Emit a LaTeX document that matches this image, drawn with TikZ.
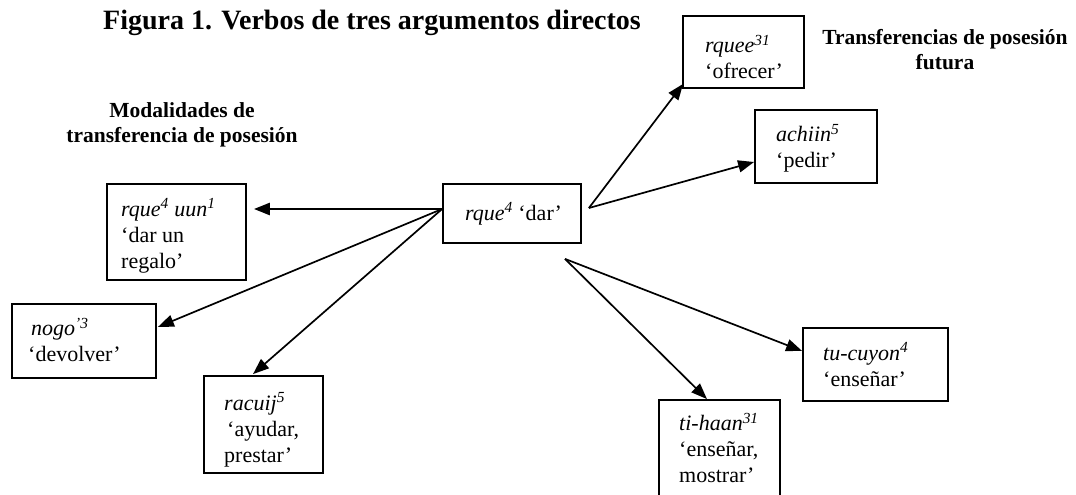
\documentclass[tikz,border=0pt]{standalone}
\usepackage{fontspec}
\setmainfont{Liberation Serif}
\usetikzlibrary{arrows.meta,calc}
\begin{document}
\begin{tikzpicture}[x=1pt,y=-1pt,
  box/.style={draw,line width=1.8pt,inner sep=0pt,rectangle},
  txt/.style={anchor=west,align=left,inner sep=0pt,font=\fontsize{22}{26}\selectfont},
  lbl/.style={align=center,inner sep=0pt,font=\fontsize{21.5}{25}\selectfont\bfseries},
  arr/.style={line width=1.7pt,-{Triangle[length=16pt,width=12pt]}},
  thickarr/.style={arr,line width=2.6pt}]
\useasboundingbox (0,0) rectangle (1076,495);

% title and group labels
\node[anchor=base west,inner sep=0pt,font=\fontsize{28}{32}\selectfont\bfseries] (title) at (103,30)
  {Figura 1. Verbos de tres argumentos directos};
\node[lbl] (modal) at (182,125) {Modalidades de\\transferencia de posesión};
\node[lbl] (futura) at (945,50) {Transferencias de posesión\\futura};

% central verb
\node[box,minimum width=138pt,minimum height=59pt] (dar) at (512,213.5) {};
\node[txt] (darT) at (465,214) {\textit{rque\textsuperscript{4}} `dar'};

% left group
\node[box,minimum width=139pt,minimum height=96pt] (uun) at (176.5,232) {};
\node[txt] (uunT) at (121,236) {\textit{rque\textsuperscript{4} uun\textsuperscript{1}}\\`dar un\\regalo'};

\node[box,minimum width=144pt,minimum height=74pt] (nogo) at (84,341) {};
\node[txt] (nogoT) at (28,340) {\hspace{3pt}\textit{nogo\textsuperscript{'3}}\\`devolver'};

\node[box,minimum width=119pt,minimum height=97pt] (racuij) at (263.5,424.5) {};
\node[txt] (racuijT) at (224,430) {\textit{racuij\textsuperscript{5}}\\\hspace{3pt}`ayudar,\\prestar'};

% right group
\node[box,minimum width=121pt,minimum height=72pt] (rquee) at (743.5,52) {};
\node[txt] (rqueeT) at (705,57) {\textit{rquee\textsuperscript{31}}\\`ofrecer'};

\node[box,minimum width=122pt,minimum height=73pt] (achiin) at (816,146.5) {};
\node[txt] (achiinT) at (776,148.5) {\textit{achiin\textsuperscript{5}}\\`pedir'};

\node[box,minimum width=145pt,minimum height=73pt] (tucuyon) at (875.5,364.5) {};
\node[txt] (tucuyonT) at (823,364.5) {\textit{tu-cuyon\textsuperscript{4}}\\`enseñar'};

\node[box,minimum width=121pt,minimum height=130pt] (tihaan) at (719.5,465) {};
\node[txt] (tihaanT) at (679,448) {\textit{ti-haan\textsuperscript{31}}\\`enseñar,\\mostrar'};

% arrow origins and tips
\coordinate (dW) at ($(dar.west)+(0,-4.5)$);
\coordinate (dE) at ($(dar.east)+(7,-5.5)$);
\coordinate (dS) at ($(dar.south)+(53,15)$);
\coordinate (uunTip) at ($(uun.east)+(7,-23)$);
\coordinate (nogoTip) at ($(nogo.east)+(1,-14)$);
\coordinate (racuijTip) at ($(racuij.north)+(-10.5,-1)$);
\coordinate (rqueeTip) at ($(rquee.south west)+(1,-5)$);
\coordinate (achiinTip) at ($(achiin.west)+(0,15.5)$);
\coordinate (tucuyonTip) at ($(tucuyon.west)+(0,-13.5)$);
\coordinate (tihaanTip) at ($(tihaan.north)+(-12.5,0)$);

\draw[thickarr] (dW) -- (uunTip);
\draw[arr] (dW) -- (nogoTip);
\draw[arr] (dW) -- (racuijTip);
\draw[arr] (dE) -- (rqueeTip);
\draw[arr] (dE) -- (achiinTip);
\draw[arr] (dS) -- (tucuyonTip);
\draw[arr] (dS) -- (tihaanTip);
\end{tikzpicture}
\end{document}
